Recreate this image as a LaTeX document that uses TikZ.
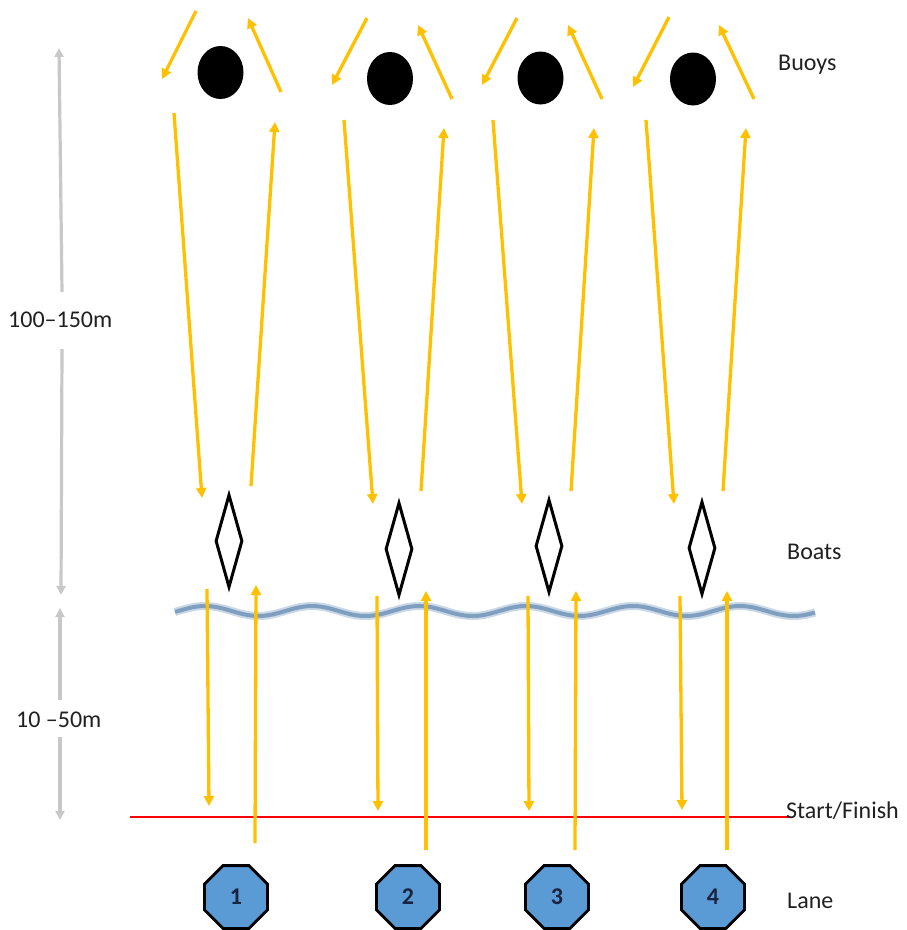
\documentclass[tikz,border=0pt]{standalone}
\usepackage{fontspec}
\setmainfont{Carlito}
\usetikzlibrary{arrows.meta,shapes.geometric}
\definecolor{orng}{HTML}{FFC000}
\definecolor{lanebl}{HTML}{5B9BD5}
\definecolor{wavedark}{HTML}{7F9FC0}
\definecolor{wavelight}{HTML}{CBD8E6}
\definecolor{dimgray}{HTML}{C8C8C8}
\definecolor{txt}{HTML}{202020}
\definecolor{navy}{HTML}{1A2440}
\begin{document}
\begin{tikzpicture}[x=1pt,y=-1pt,
  oarr/.style={draw=orng,line width=3.3pt,-{Triangle[length=10pt,width=10pt]}},
  garr/.style={draw=dimgray,line width=3.2pt,-{Triangle[length=9pt,width=9pt]}},
  buoy/.style={ellipse,fill=black,minimum width=46pt,minimum height=53pt,inner sep=0pt},
  boat/.style={diamond,draw=black,fill=white,line width=3pt,minimum width=27pt,minimum height=93pt,inner sep=0pt},
  lane/.style={regular polygon,regular polygon sides=8,draw=black,fill=lanebl,line width=2.8pt,minimum size=68pt,inner sep=0pt,font=\fontsize{24}{24}\selectfont\bfseries,text=navy},
  lbl/.style={font=\fontsize{24}{24}\selectfont,text=txt,inner sep=0pt,anchor=base west}]
\useasboundingbox (0,0) rectangle (906,930);

% wave
\draw[wavelight,line width=8pt] plot[domain=175:815,samples=160,smooth] (\x,{611-5*cos((\x-205)/107*360)});
\draw[wavedark,line width=4pt] plot[domain=175:815,samples=160,smooth] (\x,{611-5*cos((\x-205)/107*360)});

% start/finish line
\coordinate (sfL) at (130,817);
\coordinate (sfR) at (790,817);
\draw[red,line width=2.6pt] (sfL) -- (sfR);

% buoys
\foreach \n/\x/\y in {1/220.5/72.5,2/390/78.5,3/540.5/78,4/693/79}
  \node[buoy] (buoy\n) at (\x,\y) {};

% boats
\foreach \n/\x/\y in {1/229/541,2/399/549,3/549/546,4/702/548}
  \node[boat] (boat\n) at (\x,\y) {};

% lanes
\foreach \n/\x in {1/236,2/408,3/557,4/713}
  \node[lane] (lane\n) at (\x,897) {\n};

% top-left arrows (around buoy)
\foreach \n/\xa/\ya/\xb/\yb in {1/196/11/162/79,2/367/18/332/85,3/517/18/482/85,4/669/17/633/87}{
  \coordinate (tls\n) at (\xa,\ya); \coordinate (tle\n) at (\xb,\yb);
  \draw[oarr] (tls\n) -- (tle\n);}
% top-right arrows
\foreach \n/\xa/\ya/\xb/\yb in {1/281/92/248/18,2/452/99/418/25,3/602/99/568/25,4/754/99/719/25}{
  \coordinate (trs\n) at (\xa,\ya); \coordinate (tre\n) at (\xb,\yb);
  \draw[oarr] (trs\n) -- (tre\n);}
% long down arrows
\foreach \n/\xa/\ya/\xb/\yb in {1/174/113/202/498,2/344/120/373/504,3/493/120/522/504,4/646/120/674/504}{
  \coordinate (lds\n) at (\xa,\ya); \coordinate (lde\n) at (\xb,\yb);
  \draw[oarr] (lds\n) -- (lde\n);}
% long up arrows
\foreach \n/\xa/\ya/\xb/\yb in {1/251/486/275/122,2/421/491/444/128,3/571/491/594/128,4/723/491/746/128}{
  \coordinate (lus\n) at (\xa,\ya); \coordinate (lue\n) at (\xb,\yb);
  \draw[oarr] (lus\n) -- (lue\n);}
% short down arrows
\foreach \n/\xa/\ya/\xb/\yb in {1/207/589/209/806,2/377/596/378/811,3/528/596/529/811,4/680/596/682/810}{
  \coordinate (sds\n) at (\xa,\ya); \coordinate (sde\n) at (\xb,\yb);
  \draw[oarr] (sds\n) -- (sde\n);}
% short up arrows
\foreach \n/\xa/\ya/\xb/\yb in {1/255/843/256/585,2/426/850/426/591,3/575/850/576/591,4/727/850/727/591}{
  \coordinate (sus\n) at (\xa,\ya); \coordinate (sue\n) at (\xb,\yb);
  \draw[oarr] (sus\n) -- (sue\n);}

% dimension arrows
\coordinate (d1a) at (62,292); \coordinate (d1b) at (59,48);
\coordinate (d2a) at (62,349); \coordinate (d2b) at (61,595);
\coordinate (d3a) at (60,700); \coordinate (d3b) at (60,608);
\coordinate (d4a) at (60,737); \coordinate (d4b) at (60,820);
\draw[garr] (d1a) -- (d1b);
\draw[garr] (d2a) -- (d2b);
\draw[garr] (d3a) -- (d3b);
\draw[garr] (d4a) -- (d4b);

% labels
\node[lbl] (tBuoys) at (778,70) {Buoys};
\node[lbl] (tBoats) at (787,559) {Boats};
\node[lbl] (tSF) at (786,818) {Start/Finish};
\node[lbl] (tLane) at (787,908) {Lane};
\node[lbl] (tD1) at (8,327) {100–150m};
\node[lbl] (tD2) at (16,727) {10 –50m};
\end{tikzpicture}
\end{document}
